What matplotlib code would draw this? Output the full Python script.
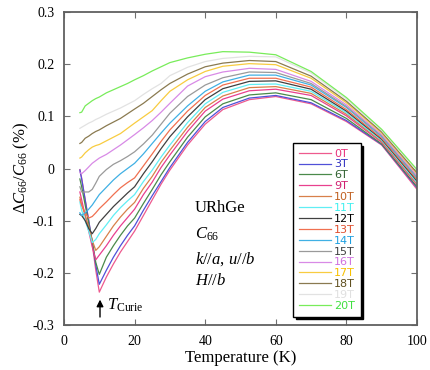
import matplotlib
matplotlib.use("Agg")
import matplotlib.pyplot as plt

plt.rcParams['font.family'] = ['Liberation Serif', 'DejaVu Serif']
plt.rcParams['mathtext.fontset'] = 'custom'
plt.rcParams['mathtext.rm'] = 'Liberation Serif'
plt.rcParams['mathtext.it'] = 'Liberation Serif:italic'

T = [4.5, 5, 6, 7, 8, 9, 10, 12, 14, 16, 18, 20, 22.5, 25, 27.5, 30, 35, 40, 45, 52.5, 60, 70, 80, 90, 100]

fields = ['0T', '3T', '6T', '9T', '10T', '11T', '12T', '13T', '14T', '15T', '16T', '17T', '18T', '19T', '20T']

v0T = [-0.002, -0.018, -0.06, -0.10, -0.145, -0.195, -0.237, -0.208, -0.183, -0.16, -0.14, -0.12, -0.09, -0.06, -0.03, -0.003, 0.045, 0.085, 0.113, 0.132, 0.138, 0.124, 0.09, 0.045, -0.04]
v3T = [-0.003, -0.02, -0.06, -0.10, -0.14, -0.185, -0.222, -0.195, -0.17, -0.148, -0.128, -0.11, -0.08, -0.052, -0.025, 0.002, 0.05, 0.09, 0.117, 0.135, 0.14, 0.126, 0.092, 0.046, -0.037]
v6T = [-0.02, -0.035, -0.07, -0.105, -0.14, -0.18, -0.203, -0.17, -0.148, -0.128, -0.11, -0.095, -0.067, -0.04, -0.012, 0.013, 0.06, 0.099, 0.124, 0.141, 0.145, 0.132, 0.096, 0.047, -0.035]
v9T = [-0.045, -0.06, -0.09, -0.12, -0.15, -0.175, -0.166, -0.148, -0.128, -0.11, -0.094, -0.078, -0.05, -0.026, 0.002, 0.026, 0.071, 0.11, 0.133, 0.149, 0.152, 0.14, 0.101, 0.05, -0.031]
v10T = [-0.055, -0.07, -0.09, -0.112, -0.138, -0.157, -0.15, -0.13, -0.11, -0.093, -0.078, -0.065, -0.038, -0.015, 0.012, 0.035, 0.079, 0.117, 0.139, 0.155, 0.157, 0.144, 0.104, 0.052, -0.029]
v11T = [-0.064, -0.08, -0.1, -0.12, -0.142, -0.136, -0.125, -0.108, -0.09, -0.075, -0.062, -0.05, -0.025, -0.003, 0.022, 0.045, 0.088, 0.124, 0.146, 0.161, 0.162, 0.148, 0.107, 0.054, -0.027]
v12T = [-0.088, -0.09, -0.1, -0.115, -0.125, -0.115, -0.103, -0.088, -0.073, -0.06, -0.047, -0.035, -0.01, 0.013, 0.038, 0.061, 0.099, 0.132, 0.153, 0.167, 0.168, 0.152, 0.11, 0.056, -0.024]
v13T = [-0.06, -0.07, -0.085, -0.095, -0.092, -0.085, -0.077, -0.064, -0.05, -0.037, -0.027, -0.018, 0.005, 0.028, 0.052, 0.074, 0.11, 0.14, 0.16, 0.173, 0.173, 0.156, 0.113, 0.058, -0.021]
v14T = [-0.085, -0.09, -0.085, -0.078, -0.07, -0.06, -0.05, -0.036, -0.022, -0.01, 0.0, 0.01, 0.028, 0.048, 0.068, 0.087, 0.12, 0.148, 0.166, 0.179, 0.179, 0.16, 0.117, 0.061, -0.018]
v15T = [-0.035, -0.045, -0.045, -0.045, -0.04, -0.028, -0.015, -0.002, 0.008, 0.015, 0.023, 0.032, 0.047, 0.064, 0.085, 0.106, 0.138, 0.16, 0.174, 0.185, 0.184, 0.163, 0.119, 0.063, -0.016]
v16T = [-0.008, -0.01, -0.004, 0.003, 0.01, 0.015, 0.02, 0.027, 0.036, 0.045, 0.055, 0.065, 0.078, 0.092, 0.108, 0.125, 0.158, 0.176, 0.185, 0.192, 0.19, 0.167, 0.122, 0.065, -0.013]
v17T = [0.02, 0.022, 0.03, 0.036, 0.041, 0.044, 0.046, 0.053, 0.06, 0.067, 0.077, 0.087, 0.099, 0.111, 0.13, 0.148, 0.17, 0.186, 0.196, 0.201, 0.199, 0.173, 0.126, 0.068, -0.01]
v18T = [0.048, 0.05, 0.058, 0.062, 0.067, 0.071, 0.074, 0.082, 0.089, 0.096, 0.105, 0.114, 0.125, 0.138, 0.151, 0.163, 0.181, 0.195, 0.202, 0.207, 0.205, 0.177, 0.129, 0.07, -0.008]
v19T = [0.077, 0.079, 0.083, 0.087, 0.09, 0.094, 0.097, 0.104, 0.11, 0.116, 0.123, 0.13, 0.142, 0.153, 0.163, 0.178, 0.194, 0.205, 0.211, 0.215, 0.214, 0.183, 0.133, 0.073, -0.004]
v20T = [0.107, 0.108, 0.12, 0.125, 0.13, 0.134, 0.137, 0.145, 0.151, 0.157, 0.163, 0.17, 0.178, 0.187, 0.195, 0.203, 0.212, 0.219, 0.224, 0.223, 0.218, 0.186, 0.136, 0.075, -0.002]

series = [v0T, v3T, v6T, v9T, v10T, v11T, v12T, v13T, v14T, v15T, v16T, v17T, v18T, v19T, v20T]

line_colors = ['#ee5a8e', '#5050d8', '#4a8a4a', '#e8408f', '#d8804a', '#60eef4', '#404040', '#f07050',
               '#40b0e4', '#9a9a9a', '#d88ae6', '#f8cc40', '#8a7a50', '#e2e2e2', '#78ec5a']
text_colors = ['#e8307a', '#3030c0', '#306030', '#d02070', '#c06020', '#40f0f0', '#000000', '#e05030',
               '#20a0e0', '#404040', '#d070e0', '#f8c000', '#605020', '#e0e0e0', '#40e040']

fig = plt.figure(figsize=(4.3, 3.7), dpi=100)
ax = fig.add_axes([64/430, 45/370, 353/430, 313/370])

for vals, lab, c in zip(series, fields, line_colors):
    ax.plot(T, vals, color=c, lw=0.9, label=lab)

ax.set_xlim(0, 100)
ax.set_ylim(-0.3, 0.3)
ax.set_xticks([0, 20, 40, 60, 80, 100])
ax.set_yticks([-0.3, -0.2, -0.1, 0, 0.1, 0.2, 0.3])
ax.set_yticklabels(['-0.3', '-0.2', '-0.1', '0', '0.1', '0.2', '0.3'])
ax.tick_params(direction='in', length=4, width=0.8, color='#707070', labelsize=10,
               top=True, right=True, pad=7)
for s in ax.spines.values():
    s.set_color('#606060')
    s.set_linewidth(1.3)

ax.set_xlabel('Temperature (K)', fontsize=12, labelpad=2)
ax.set_ylabel(r'$\Delta C_{66}/C_{66}$ (%)', fontsize=12, labelpad=1)

ax.text(37, -0.083, 'URhGe', fontsize=12)
ax.text(37, -0.135, r'$C_{66}$', fontsize=12)
ax.text(37, -0.182, r'$k//a$, $u//b$', fontsize=12)
ax.text(37, -0.223, r'$H//b$', fontsize=12)

ax.annotate('', xy=(10.2, -0.246), xytext=(10.2, -0.29),
            arrowprops=dict(arrowstyle='-|>', color='black', lw=1.0, mutation_scale=10))
ax.text(12.3, -0.262, r'$T_{\mathrm{Curie}}$', fontsize=12, va='center')

leg = ax.legend(loc='upper left', bbox_to_anchor=(293/430, 1 - 143/370),
                bbox_transform=fig.transFigure, borderaxespad=0,
                fancybox=False, shadow=dict(color='black', alpha=1.0),
                edgecolor='black', framealpha=1, handlelength=2.9,
                handletextpad=0.3, labelspacing=0.08, borderpad=0.5,
                prop={'family': ['Liberation Sans Narrow', 'DejaVu Sans'], 'size': 8})
leg.get_frame().set_linewidth(1.0)
for txt, c in zip(leg.get_texts(), text_colors):
    txt.set_color(c)

fig.savefig('out.png', dpi=100)
